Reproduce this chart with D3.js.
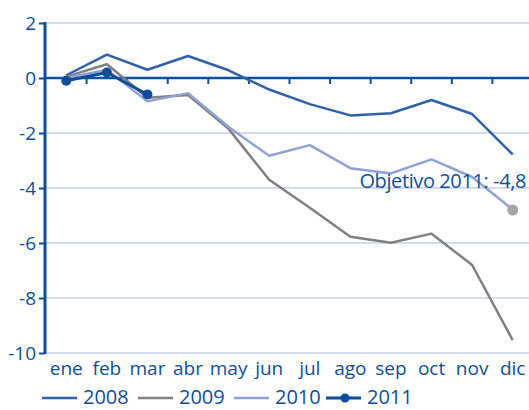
<!DOCTYPE html>
<html>
<head>
<meta charset="utf-8">
<script src="https://cdn.jsdelivr.net/npm/d3@7"></script>
<style>
  body { margin: 0; background: #fff; }
  text { font-family: "Open Sans", sans-serif; fill: #0d4f9e; }
</style>
</head>
<body>
<div id="chart"></div>
<script>
// Chart size
const width = 529;
const height = 410;

// Data
const months = ["ene", "feb", "mar", "abr", "may", "jun", "jul", "ago", "sep", "oct", "nov", "dic"];
const values2008 = [0.1, 0.85, 0.3, 0.8, 0.28, -0.42, -0.95, -1.36, -1.28, -0.8, -1.31, -2.78];
const values2009 = [0.05, 0.5, -0.72, -0.62, -1.85, -3.7, -4.72, -5.77, -5.99, -5.66, -6.8, -9.53];
const values2010 = [0.0, 0.3, -0.85, -0.55, -1.78, -2.83, -2.44, -3.28, -3.47, -2.96, -3.6, -4.78];
const values2011 = [-0.1, 0.2, -0.6];
const yTicks = [2, 0, -2, -4, -6, -8, -10];
const target = { month: "dic", value: -4.8, label: "Objetivo 2011: -4,8" };

const series = [
  { name: "2008", values: values2008, color: "#2f60a9", width: 2.5 },
  { name: "2009", values: values2009, color: "#808080", width: 2.5 },
  { name: "2010", values: values2010, color: "#8fa1d6", width: 2.5 },
  { name: "2011", values: values2011, color: "#0b4d98", width: 3, dots: true }
];

const svg = d3.select("#chart")
  .append("svg")
  .attr("width", width)
  .attr("height", height);

// Scales
const x = d3.scaleBand()
  .domain(months)
  .range([46, 533])
  .padding(0);

const cx = m => x(m) + x.bandwidth() / 2;

const y = d3.scaleLinear()
  .domain([-10, 2])
  .range([353, 23]);

// Gridlines
svg.append("g")
  .selectAll("line")
  .data(yTicks.filter(d => d !== 0))
  .join("line")
  .attr("x1", 45)
  .attr("x2", width)
  .attr("y1", d => y(d))
  .attr("y2", d => y(d))
  .attr("stroke", "#c9d1ea")
  .attr("stroke-width", 1.5);

// Y axis
const yAxis = svg.append("g")
  .attr("transform", "translate(45,0)")
  .call(d3.axisLeft(y).tickValues(yTicks).tickSize(6).tickPadding(3).tickFormat(d3.format("d")));
yAxis.select(".domain").attr("stroke", "#0d4f9e").attr("stroke-width", 3).attr("d", `M0,${y(2) - 1}V${y(-10) + 1}`);
yAxis.selectAll(".tick line").attr("stroke", "#0d4f9e").attr("stroke-width", 2);
yAxis.selectAll(".tick text")
  .attr("font-size", "19px")
  .style("font-family", "'Open Sans', sans-serif")
  .attr("fill", "#0d4f9e")
  .text(d => d < 0 ? "-" + Math.abs(d) : d);

// Zero line with month ticks
svg.append("line")
  .attr("x1", 45)
  .attr("x2", width)
  .attr("y1", y(0))
  .attr("y2", y(0))
  .attr("stroke", "#0d4f9e")
  .attr("stroke-width", 2.5);

svg.append("g")
  .selectAll("line")
  .data(months.slice(1))
  .join("line")
  .attr("x1", d => x(d))
  .attr("x2", d => x(d))
  .attr("y1", y(0))
  .attr("y2", y(0) + 6)
  .attr("stroke", "#0d4f9e")
  .attr("stroke-width", 2);

// Month labels
svg.append("g")
  .selectAll("text")
  .data(months)
  .join("text")
  .attr("x", d => cx(d))
  .attr("y", 375)
  .attr("text-anchor", "middle")
  .attr("font-size", "19px")
  .text(d => d);

// Lines
const line = d3.line()
  .x((d, i) => cx(months[i]))
  .y(d => y(d));

series.forEach(s => {
  svg.append("path")
    .datum(s.values)
    .attr("fill", "none")
    .attr("stroke", s.color)
    .attr("stroke-width", s.width)
    .attr("stroke-linejoin", "round")
    .attr("d", line);
});

// Target marker
svg.append("circle")
  .attr("cx", cx(target.month))
  .attr("cy", y(target.value))
  .attr("r", 5.5)
  .attr("fill", "#a6a6a6");

svg.append("text")
  .attr("x", 526)
  .attr("y", y(-4))
  .attr("text-anchor", "end")
  .attr("font-size", "20px")
  .attr("letter-spacing", "-0.4px")
  .text(target.label);

// 2011 dots
const s2011 = series[3];
svg.append("g")
  .selectAll("circle")
  .data(s2011.values)
  .join("circle")
  .attr("cx", (d, i) => cx(months[i]))
  .attr("cy", d => y(d))
  .attr("r", 5)
  .attr("fill", s2011.color);

// Legend
const legendY = 398;
const legendItems = [
  { x: 42, tx: 83 },
  { x: 138, tx: 179 },
  { x: 234, tx: 275 },
  { x: 326, tx: 367 }
];
series.forEach((s, i) => {
  const g = svg.append("g");
  const it = legendItems[i];
  g.append("line")
    .attr("x1", it.x)
    .attr("x2", it.x + 35)
    .attr("y1", legendY)
    .attr("y2", legendY)
    .attr("stroke", s.color)
    .attr("stroke-width", s.dots ? 3 : 2.5);
  if (s.dots) {
    g.append("circle")
      .attr("cx", it.x + 19)
      .attr("cy", legendY)
      .attr("r", 4.5)
      .attr("fill", s.color);
  }
  g.append("text")
    .attr("x", it.tx)
    .attr("y", legendY + 6)
    .attr("font-size", "20px")
    .text(s.name);
});
</script>
</body>
</html>
